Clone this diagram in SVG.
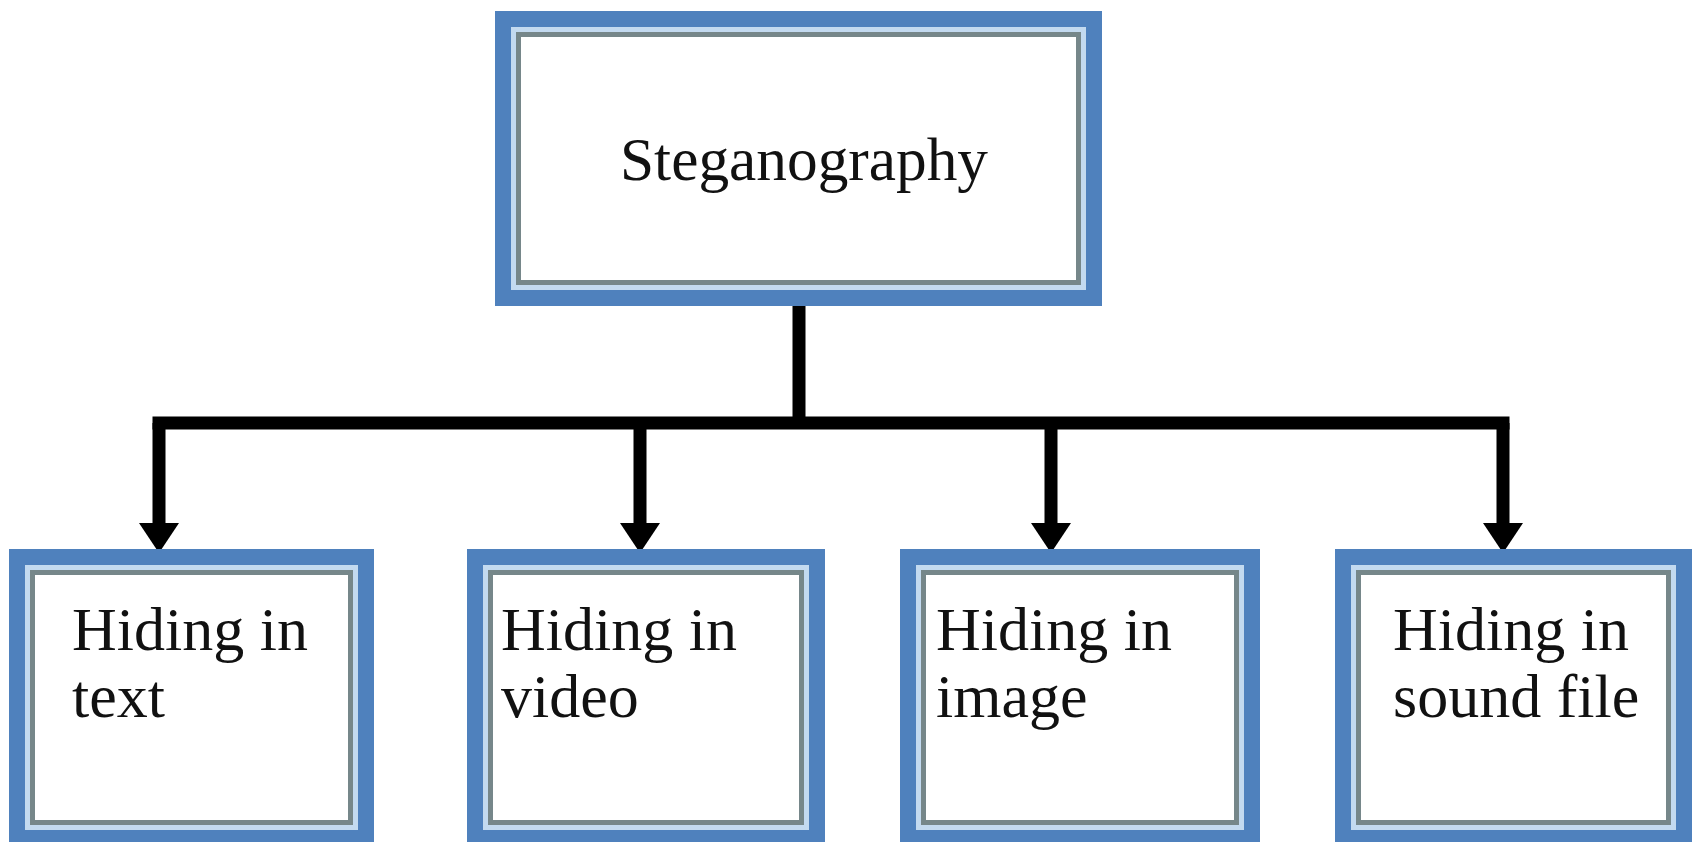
<svg xmlns="http://www.w3.org/2000/svg" width="1696" height="842" viewBox="0 0 1696 842">
<style>
.band{fill:none;stroke:#4f81bd;stroke-width:16}
.light{fill:none;stroke:#c3daf0;stroke-width:5}
.gray{fill:#ffffff;stroke:#76878a;stroke-width:5}
.lbl{font-family:"Liberation Serif","Times New Roman",serif;font-size:62px;fill:#111111}
.con{fill:none;stroke:#000000;stroke-width:13}
</style>
<defs>
<marker id="ah" markerUnits="userSpaceOnUse" viewBox="0 -20 30 40" refX="0" refY="0" markerWidth="30" markerHeight="40" orient="auto">
<path d="M0,-20 L30,0 L0,20 z" fill="#000000"/>
</marker>
</defs>
<rect width="1696" height="842" fill="#ffffff"/>
<g id="connectors">
<path class="con" d="M799,300 V423"/>
<path class="con" d="M159,423 H1503" stroke-linecap="square"/>
<path class="con" d="M159,423 V523" marker-end="url(#ah)"/>
<path class="con" d="M640,423 V523" marker-end="url(#ah)"/>
<path class="con" d="M1051,423 V523" marker-end="url(#ah)"/>
<path class="con" d="M1503,423 V523" marker-end="url(#ah)"/>
</g>
<g id="steganography">
<rect class="gray" x="518.5" y="34.5" width="560" height="248"/>
<rect class="light" x="513.5" y="29.5" width="570" height="258"/>
<rect class="band" x="503" y="19" width="591" height="279"/>
<text class="lbl" x="620" y="180" font-size="64" textLength="368" lengthAdjust="spacingAndGlyphs">Steganography</text>
</g>
<g id="text">
<rect class="gray" x="32.5" y="572.5" width="318" height="250"/>
<rect class="light" x="27.5" y="567.5" width="328" height="260"/>
<rect class="band" x="17" y="557" width="349" height="281"/>
<text class="lbl" x="72" y="650">Hiding in</text>
<text class="lbl" x="72" y="717">text</text>
</g>
<g id="video">
<rect class="gray" x="490.5" y="572.5" width="311" height="250"/>
<rect class="light" x="485.5" y="567.5" width="321" height="260"/>
<rect class="band" x="475" y="557" width="342" height="281"/>
<text class="lbl" x="501" y="650">Hiding in</text>
<text class="lbl" x="501" y="717">video</text>
</g>
<g id="image">
<rect class="gray" x="923.5" y="572.5" width="313" height="250"/>
<rect class="light" x="918.5" y="567.5" width="323" height="260"/>
<rect class="band" x="908" y="557" width="344" height="281"/>
<text class="lbl" x="936" y="650">Hiding in</text>
<text class="lbl" x="936" y="717">image</text>
</g>
<g id="sound">
<rect class="gray" x="1358.5" y="572.5" width="310" height="250"/>
<rect class="light" x="1353.5" y="567.5" width="320" height="260"/>
<rect class="band" x="1343" y="557" width="341" height="281"/>
<text class="lbl" x="1393" y="650">Hiding in</text>
<text class="lbl" x="1393" y="717">sound file</text>
</g>
</svg>
